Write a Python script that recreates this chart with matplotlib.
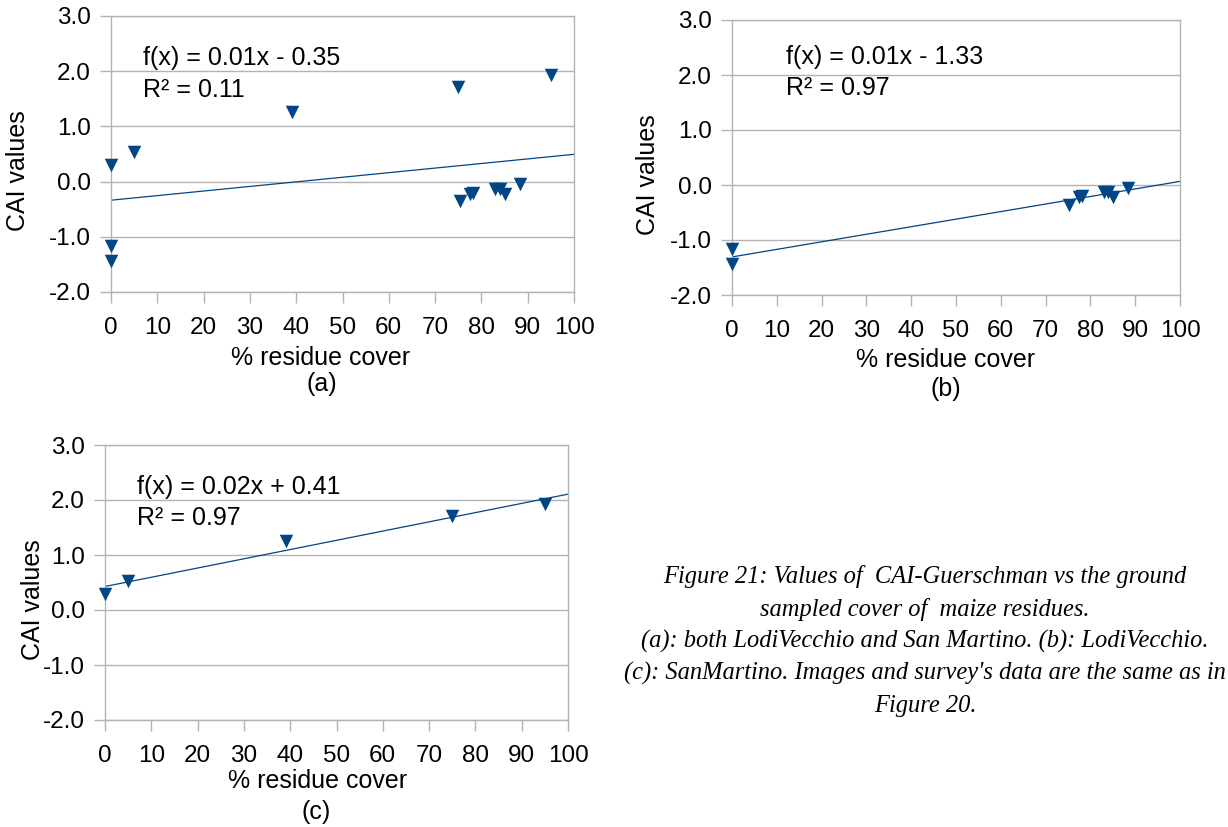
import numpy as np
import matplotlib
matplotlib.use('Agg')
import matplotlib.pyplot as plt

plt.rcParams['font.family'] = ['Liberation Sans', 'DejaVu Sans']
plt.rcParams['axes.unicode_minus'] = False

# ground sampled residue cover (%) and CAI-Guerschman values
lodi_x = [0, 0, 75.3, 77.5, 78.2, 83, 84, 85, 88.4]
lodi_y = [-1.17, -1.44, -0.36, -0.22, -0.20, -0.13, -0.13, -0.22, -0.05]
sanm_x = [0, 5, 39, 75, 95]
sanm_y = [0.30, 0.53, 1.26, 1.71, 1.93]
both_x = lodi_x + sanm_x
both_y = lodi_y + sanm_y

eq_lines = ['f(x) = 0.01x - 0.35', 'f(x) = 0.01x - 1.33', 'f(x) = 0.02x + 0.41']
r2_lines = ['R² = 0.11', 'R² = 0.97', 'R² = 0.97']
panel_labels = ['(a)', '(b)', '(c)']
x_ticks = list(range(0, 101, 10))
y_ticks = [-2.0, -1.0, 0.0, 1.0, 2.0, 3.0]

caption = ["Figure 21: Values of  CAI-Guerschman vs the ground",
           "sampled cover of  maize residues.",
           "(a): both LodiVecchio and San Martino. (b): LodiVecchio.",
           "(c): SanMartino. Images and survey's data are the same as in",
           "Figure 20."]

W, H = 1228, 827
blue = '#004586'
grey = '#b3b3b3'
fs = 18


def fx(px):
    return px / W


def fy(py):
    return 1 - py / H


fig = plt.figure(figsize=(W / 100, H / 100), dpi=100)

# axes boxes in pixels: left, top, right, bottom
boxes = [(111, 16, 574, 292), (732, 20, 1180, 295), (105, 445, 568, 720)]
data = [(both_x, both_y), (lodi_x, lodi_y), (sanm_x, sanm_y)]
# text positions in pixels (left/centre x, centre y of each line)
eq_pos = [(143, 58, 90), (786, 57, 88), (137, 487, 518)]
ylab_pos = [(18, 171), (648, 175), (33, 600)]
xlab_pos = [(321, 358), (946, 360), (318, 781)]
sub_pos = [(322, 384), (946, 389), (316, 812)]

for i in range(3):
    l, t, r, b = boxes[i]
    ax = fig.add_axes([fx(l), fy(b), (r - l) / W, (b - t) / H])
    x, y = data[i]
    ax.scatter(x, y, marker='v', s=95, color=blue, zorder=3, clip_on=False,
               linewidths=0)
    k, c = np.polyfit(x, y, 1)
    xx = np.array([0, 100])
    ax.plot(xx, k * xx + c, color=blue, lw=0.9, zorder=2)
    ax.set_xlim(0, 100)
    ax.set_ylim(-2, 3)
    ax.set_xticks(x_ticks)
    ax.set_yticks(y_ticks)
    ax.set_yticklabels(['%.1f' % v for v in y_ticks])
    ax.yaxis.grid(True, color=grey, lw=1)
    ax.set_axisbelow(True)
    for s in ax.spines.values():
        s.set_color(grey)
        s.set_linewidth(1)
    ax.tick_params(axis='both', direction='out', length=8, width=1,
                   color=grey, labelsize=17.5)
    ax.tick_params(axis='y', pad=6.5)
    ax.tick_params(axis='x', pad=10)
    ex, ey1, ey2 = eq_pos[i]
    fig.text(fx(ex), fy(ey1), eq_lines[i], fontsize=fs, ha='left', va='center')
    fig.text(fx(ex), fy(ey2), r2_lines[i], fontsize=fs, ha='left', va='center')
    fig.text(fx(ylab_pos[i][0]), fy(ylab_pos[i][1]), 'CAI values',
             fontsize=fs, rotation=90, ha='center', va='center')
    fig.text(fx(xlab_pos[i][0]), fy(xlab_pos[i][1]), '% residue cover',
             fontsize=fs, ha='center', va='center')
    fig.text(fx(sub_pos[i][0]), fy(sub_pos[i][1]), panel_labels[i],
             fontsize=fs, ha='center', va='center')

# caption, scaled so the longest line spans about 604 px
renderer = fig.canvas.get_renderer()
probe = fig.text(0, 0, caption[3], fontsize=10, family='Liberation Serif',
                 style='italic')
wpx = probe.get_window_extent(renderer).width
probe.remove()
cap_size = 10 * 604 / wpx
baselines = [583, 616, 648, 680, 712]
for line, yb in zip(caption, baselines):
    fig.text(fx(925), fy(yb), line, fontsize=cap_size,
             family='Liberation Serif', style='italic', ha='center',
             va='baseline')

fig.savefig('out.png', dpi=100)
